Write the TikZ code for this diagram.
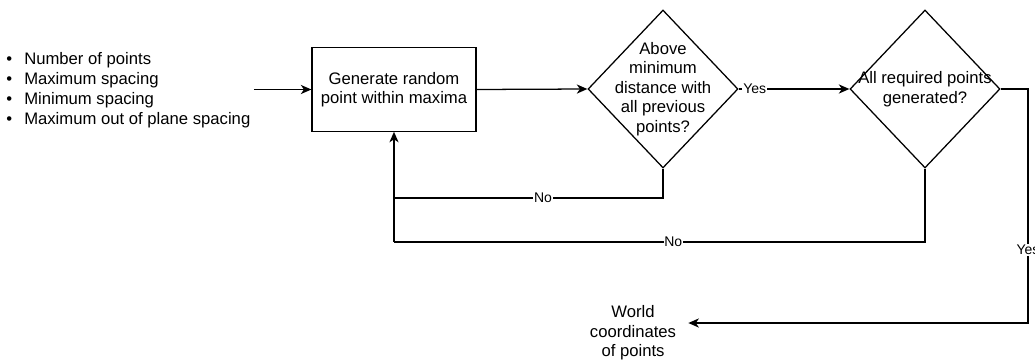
\documentclass[tikz,border=0pt]{standalone}
\usepackage{fontspec}
\setmainfont{Liberation Sans}
\usetikzlibrary{shapes.geometric,arrows.meta}

\tikzset{
  base/.style={font=\fontsize{12.5pt}{14.7pt}\selectfont},
  flow/.style={draw=black, line width=0.95pt},
  arr/.style={flow, -{Stealth[length=8pt, width=7pt, inset=2.4pt, line width=0pt, fill=black]}},
  procbox/.style={base, draw, line width=0.95pt, rectangle, align=center,
    minimum width=123pt, minimum height=62.5pt, inner sep=0pt},
  decision/.style={draw, line width=0.95pt, diamond, minimum width=112.5pt,
    minimum height=118.5pt, inner sep=0pt},
  decisiontext/.style={base, align=center, inner sep=0pt},
  lbl/.style={font=\fontsize{10.5pt}{12pt}\selectfont, fill=white, inner sep=0.6pt},
}

\begin{document}
\begin{tikzpicture}[x=0.75pt, y=-0.75pt]
  \useasboundingbox (0,0) rectangle (1035,360);

  % input parameters
  \node[base, anchor=west, align=left, inner sep=0pt,
        font=\fontsize{12.5pt}{15pt}\selectfont] (inputs) at (6,90)
    {\makebox[13.5pt][l]{\textbullet}Number of points\\
     \makebox[13.5pt][l]{\textbullet}Maximum spacing\\
     \makebox[13.5pt][l]{\textbullet}Minimum spacing\\
     \makebox[13.5pt][l]{\textbullet}Maximum out of plane spacing};

  % process step
  \node[procbox] (gen) at (394,89.5) {Generate random\\point within maxima};

  % decisions
  \node[decision] (d1) at (663,89) {};
  \node[decisiontext] (d1t) at (d1.center)
    {Above\\minimum\\distance with\\all previous\\points?};
  \node[decision] (d2) at (925,89) {};
  \node[decisiontext] (d2t) at (d2.center) {All required points\\generated?};

  % output
  \node[base, align=center, inner xsep=9pt, inner ysep=0pt] (out) at (633,333)
    {World\\coordinates\\of points};

  % routing points
  \coordinate (n1) at (394,198);
  \coordinate (n2) at (394,242);
  \coordinate (c2) at (1028,323);

  % connectors
  \draw[arr] ([xshift=2.5pt]gen.west -| inputs.east) -- (gen.west);
  \draw[arr] (gen.east) -- (d1.west);
  \draw[arr] (d1.east) -- node[lbl, pos=0.145] {Yes} (d2.west);
  \draw[flow] (d1.south) |- node[lbl, pos=0.723] {No} (n1);
  \draw[flow] (d2.south) |- node[lbl, pos=0.737] {No} (n2);
  \draw[arr] (n2) -- (gen.south);
  \draw[arr] (d2.east) -| node[lbl, pos=0.844] {Yes} (c2) -- (out.east |- c2);
\end{tikzpicture}
\end{document}
